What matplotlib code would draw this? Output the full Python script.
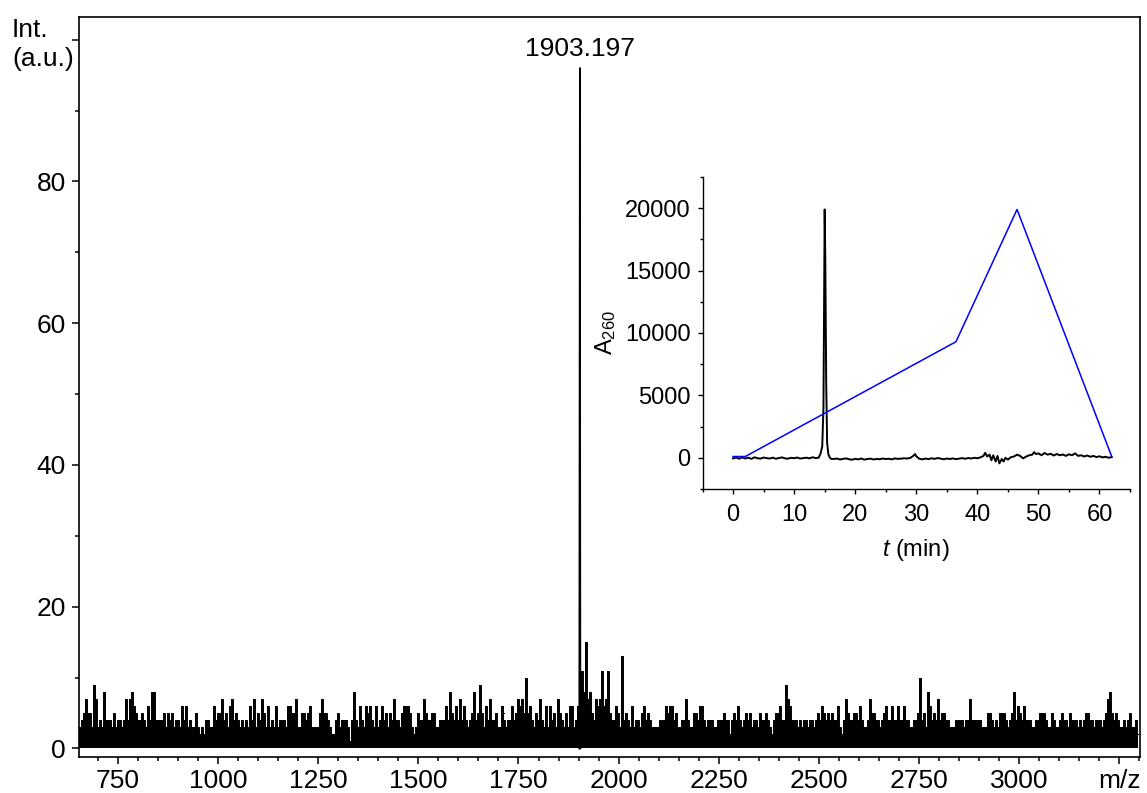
import matplotlib
matplotlib.use("Agg")
import matplotlib.pyplot as plt
import matplotlib.transforms as mtransforms
import numpy as np
from matplotlib.ticker import MultipleLocator, FixedLocator

plt.rcParams['font.family'] = ['Liberation Sans', 'DejaVu Sans']
plt.rcParams['mathtext.fontset'] = 'custom'
plt.rcParams['mathtext.rm'] = 'Liberation Sans'
plt.rcParams['mathtext.it'] = 'Liberation Sans:italic'

# MALDI-TOF spectrum. Noise in 5 m/z bins,
# one hex digit per bin (a=10 ... f=15), five stretches of the axis.
bin_step = 5.0
chunk_start = [650.1, 1179.5, 1708.9, 2238.4, 2767.8]
chunk_levels = [
    "2345755397" "3438444353" "4434747865" "4454364884" "4445354534"
    "4364634335" "3232443364" "5574536745" "4343436473" "5475363436" "34443664",
    "6557335545" "6333357554" "3224534443" "1484364365" "6436346453"
    "5474435666" "5323544754" "4553344464" "8546474643" "4584595364" "74453365",
    "6434464576" "75a5643547" "4363645375" "4353663469" "b8f7854767"
    "b67b544653" "d454363443" "5645433334" "4465664533" "4474335546" "64344433",
    "3344454424" "5464345453" "4435445432" "4556449764" "4434344344"
    "3454654545" "4463247544" "5546433475" "5443456446" "4464464433" "445a4537",
    "3864547455" "4433344443" "4474444433" "3554343555" "4345846546"
    "4443344555" "4335433454" "4354443434" "5544344434" "5785454334" "3453342",
]
peak_mz = 1903.197
peak_height = 96.0
peak_base = 3.0

mz_ticks = [750, 1000, 1250, 1500, 1750, 2000, 2250, 2500, 2750, 3000, 3250]
mz_labels = ['750', '1000', '1250', '1500', '1750', '2000', '2250', '2500',
             '2750', '3000', 'm/z']
int_ticks = [0, 20, 40, 60, 80, 100]
int_labels = ['0', '20', '40', '60', '80', '']

# HPLC trace (inset): (t in min, A260)
chrom = [
    (0.0, -50), (0.5, 20), (1.0, -80), (1.5, 30), (2.0, -60), (2.5, 10),
    (3.0, -90), (3.5, 40), (4.0, -40), (4.5, -70), (5.0, 20), (5.5, -30),
    (6.0, -60), (6.5, 10), (7.0, -80), (7.5, -20), (8.0, 30), (8.5, -50),
    (9.0, -70), (9.5, 0), (10.0, -40), (10.5, 20), (11.0, -60), (11.5, -30),
    (12.0, 10), (12.5, -50), (13.0, 40), (13.5, -20), (14.0, 0), (14.3, 300),
    (14.6, 900), (14.8, 4000), (14.9, 12000), (15.0, 19900), (15.1, 16000),
    (15.25, 6000), (15.4, 1200), (15.6, 300), (15.8, 50), (16.0, -80),
    (16.5, -100), (17.0, -60), (17.5, -140), (18.0, -90), (18.5, -50),
    (19.0, -120), (19.5, -160), (20.0, -80), (20.5, -130), (21.0, -60),
    (21.5, -150), (22.0, -100), (22.5, -70), (23.0, -140), (23.5, -90),
    (24.0, -120), (24.5, -60), (25.0, -100), (25.5, -80), (26.0, -130),
    (26.5, -50), (27.0, -90), (27.5, -70), (28.0, -40), (28.5, -60),
    (29.0, -20), (29.5, 150), (29.8, 300), (30.0, 120), (30.5, -80),
    (31.0, -130), (31.5, -60), (32.0, -110), (32.5, -40), (33.0, -90),
    (33.5, -20), (34.0, -70), (34.5, -120), (35.0, -60), (35.5, -100),
    (36.0, -50), (36.5, -110), (37.0, -70), (37.5, -30), (38.0, -80),
    (38.5, -20), (39.0, -60), (39.5, 0), (40.0, -40), (40.5, 30),
    (41.0, 150), (41.3, 400), (41.6, 100), (42.0, 250), (42.3, -200),
    (42.6, 200), (43.0, -300), (43.3, 150), (43.6, -450), (44.0, -100),
    (44.3, -300), (44.6, 0), (45.0, -150), (45.5, 50), (46.0, 100),
    (46.5, 250), (47.0, 150), (47.5, -50), (48.0, 100), (48.5, 200),
    (49.0, 250), (49.3, 450), (49.6, 300), (50.0, 350), (50.5, 200),
    (51.0, 380), (51.5, 250), (52.0, 320), (52.5, 180), (53.0, 300),
    (53.5, 200), (54.0, 260), (54.5, 150), (55.0, 280), (55.5, 200),
    (56.0, 350), (56.5, 150), (57.0, 200), (57.5, 100), (58.0, 180),
    (58.5, 80), (59.0, 150), (59.5, 50), (60.0, 120), (60.5, 30),
    (61.0, 80), (61.5, 0), (62.0, 50),
]
grad_t = [0, 2, 36.5, 46.5, 62]
grad_a = [100, 100, 9300, 19900, 100]

fig = plt.figure(figsize=(11.47, 7.93), dpi=100)
ax = fig.add_axes([0.0689, 0.0454, 0.925, 0.9332])

for start, s in zip(chunk_start, chunk_levels):
    vals = np.array([int(c, 16) for c in s], dtype=float)
    mz = start + bin_step * np.arange(len(vals))
    ax.fill_between(mz, 0, vals, step='mid', color='k', lw=0)
    ax.plot(mz, vals, color='k', lw=0.7, drawstyle='steps-mid')

ax.plot([peak_mz - peak_base / 2, peak_mz, peak_mz + peak_base / 2],
        [0, peak_height, 0], color='k', lw=1.2)
ax.annotate(f"{peak_mz:.3f}", xy=(peak_mz, peak_height), xytext=(0, 9),
            textcoords='offset points', ha='center', va='baseline', fontsize=19)

ax.set_xlim(652.6, 3302)
ax.set_ylim(-1.2, 103.2)
ax.xaxis.set_major_locator(FixedLocator(mz_ticks))
ax.set_xticklabels(mz_labels)
ax.xaxis.set_minor_locator(MultipleLocator(50))
ax.set_yticks(int_ticks)
ax.set_yticklabels(int_labels)
ax.yaxis.set_minor_locator(MultipleLocator(10))
ax.tick_params(which='major', direction='out', length=5, width=1.1,
               labelsize=19, pad=4.5)
ax.tick_params(axis='x', which='major', pad=4)
ax.tick_params(which='minor', direction='out', length=2.8, width=1.1)
for sp in ax.spines.values():
    sp.set_linewidth(1.2)

trans = mtransforms.blended_transform_factory(ax.transAxes, ax.transData)
ax.text(-0.0631, 99.3, "Int.\n(a.u.)", transform=trans, ha='left',
        va='center', fontsize=19, linespacing=1.3)

# inset chromatogram
axin = fig.add_axes([0.6125, 0.3834, 0.3727, 0.3934])
axin.patch.set_alpha(0)
ct = [p[0] for p in chrom]
ca = [p[1] for p in chrom]
axin.plot(ct, ca, color='k', lw=1.4)
axin.plot(grad_t, grad_a, color='#0000ff', lw=1.1)
axin.set_xlim(-5, 65)
axin.set_ylim(-2500, 22500)
axin.xaxis.set_major_locator(MultipleLocator(10))
axin.xaxis.set_minor_locator(MultipleLocator(5))
axin.yaxis.set_major_locator(MultipleLocator(5000))
axin.yaxis.set_minor_locator(MultipleLocator(2500))
axin.spines['top'].set_visible(False)
axin.spines['right'].set_visible(False)
for sp in ['left', 'bottom']:
    axin.spines[sp].set_linewidth(1.0)
axin.tick_params(which='major', direction='out', length=3.6, width=1.0,
                 labelsize=17, pad=5)
axin.tick_params(axis='x', which='major', pad=7)
axin.tick_params(which='minor', direction='out', length=2, width=1.0)
axin.set_xlabel(r"$t$ (min)", fontsize=17, labelpad=8)
axin.set_ylabel(r"A$_{260}$", fontsize=17, labelpad=5)

fig.savefig("out.png", dpi=100)
